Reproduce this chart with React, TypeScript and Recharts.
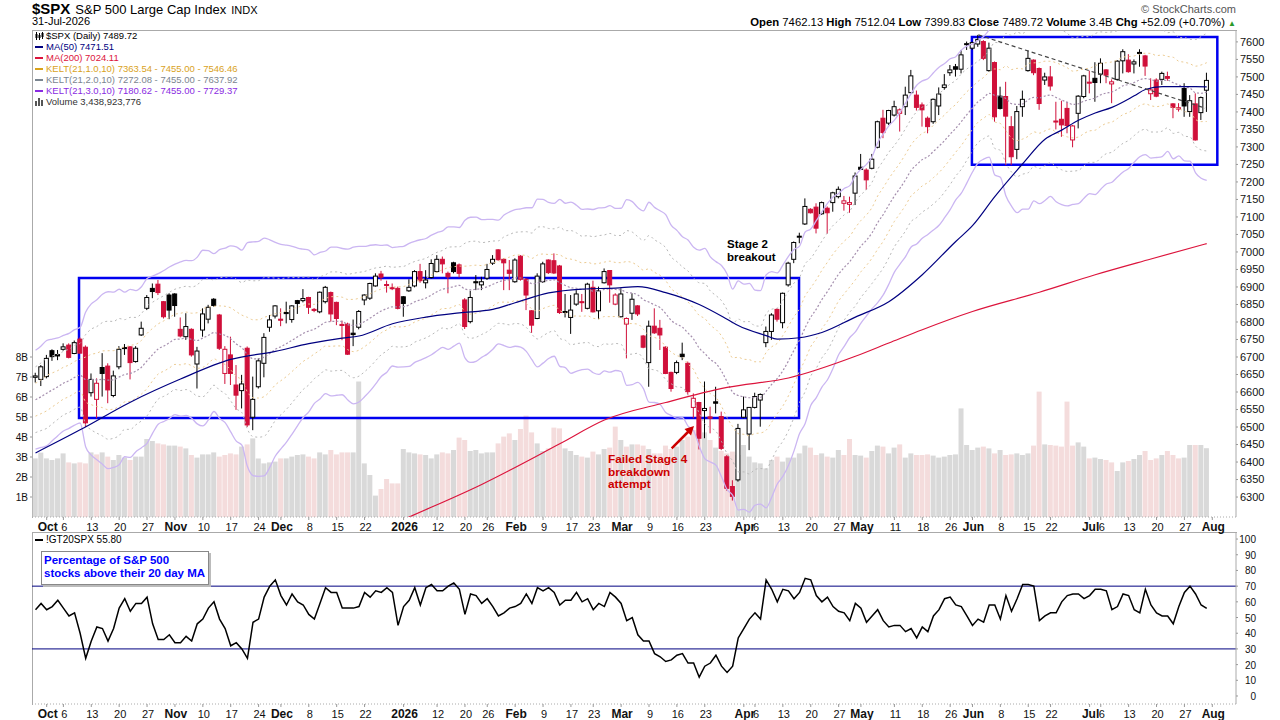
import React from "react";
import { Bar, Cell, ComposedChart, Line, ReferenceArea, ReferenceLine, XAxis, YAxis } from "recharts";

// $SPX daily candles 29-Sep-2025 .. 31-Jul-2026 : [open, high, low, close]
const ohlc: [number, number, number, number][] = [
  [6642, 6655, 6627, 6646], [6636, 6677, 6617, 6672], [6644, 6706, 6639, 6696], [6718, 6722, 6689, 6701], [6707, 6720, 6691, 6703],
  [6722, 6739, 6718, 6729], [6734, 6739, 6696, 6699], [6710, 6747, 6708, 6741], [6751, 6756, 6710, 6711], [6728, 6733, 6500, 6512],
  [6598, 6653, 6587, 6636], [6579, 6639, 6525, 6625], [6670, 6711, 6587, 6653], [6674, 6682, 6568, 6606], [6590, 6661, 6585, 6646],
  [6672, 6731, 6665, 6722], [6727, 6737, 6706, 6724], [6729, 6731, 6636, 6684], [6687, 6731, 6684, 6725], [6763, 6801, 6760, 6782],
  [6839, 6877, 6834, 6870], [6896, 6910, 6868, 6887], [6908, 6920, 6877, 6884], [6858, 6860, 6810, 6815], [6877, 6882, 6808, 6834],
  [6880, 6882, 6815, 6847], [6779, 6813, 6756, 6760], [6758, 6825, 6749, 6787], [6779, 6782, 6701, 6706], [6680, 6729, 6610, 6717],
  [6777, 6839, 6758, 6823], [6808, 6849, 6796, 6842], [6865, 6868, 6844, 6847], [6820, 6823, 6720, 6725], [6653, 6731, 6623, 6722],
  [6706, 6758, 6620, 6653], [6620, 6677, 6549, 6591], [6604, 6649, 6553, 6623], [6725, 6730, 6500, 6506], [6528, 6644, 6491, 6579],
  [6615, 6696, 6610, 6689], [6682, 6768, 6642, 6756], [6785, 6820, 6772, 6806], [6817, 6848, 6810, 6846], [6808, 6839, 6788, 6805],
  [6827, 6858, 6796, 6824], [6807, 6848, 6798, 6846], [6861, 6863, 6823, 6853], [6861, 6894, 6856, 6867], [6870, 6872, 6823, 6842],
  [6836, 6840, 6828, 6833], [6829, 6887, 6825, 6885], [6858, 6903, 6853, 6899], [6884, 6887, 6801, 6823], [6856, 6858, 6791, 6810],
  [6793, 6804, 6748, 6790], [6794, 6798, 6706, 6708], [6768, 6807, 6731, 6764], [6785, 6834, 6779, 6830], [6863, 6879, 6848, 6877],
  [6868, 6912, 6863, 6910], [6903, 6939, 6901, 6931], [6937, 6946, 6918, 6928], [6907, 6918, 6884, 6905], [6898, 6910, 6891, 6895],
  [6896, 6901, 6836, 6839], [6872, 6874, 6815, 6853], [6889, 6922, 6886, 6899], [6903, 6948, 6899, 6944], [6944, 6966, 6912, 6918],
  [6912, 6948, 6896, 6920], [6927, 6979, 6924, 6967], [6944, 6991, 6941, 6979], [6979, 6987, 6939, 6966], [6939, 6944, 6882, 6929],
  [6969, 6972, 6939, 6944], [6963, 6967, 6927, 6939], [6863, 6868, 6780, 6787], [6801, 6889, 6796, 6870], [6915, 6934, 6891, 6912],
  [6906, 6929, 6891, 6915], [6925, 6966, 6920, 6950], [6968, 6991, 6963, 6979], [7006, 7008, 6975, 6978], [6979, 6982, 6891, 6969],
  [6948, 6977, 6891, 6939], [6915, 6982, 6912, 6977], [6988, 6991, 6918, 6922], [6922, 6925, 6834, 6877], [6832, 6834, 6769, 6791],
  [6810, 6939, 6808, 6931], [6915, 6972, 6912, 6966], [6977, 6979, 6937, 6941], [6975, 6996, 6937, 6940], [6960, 6963, 6823, 6827],
  [6830, 6880, 6813, 6828], [6813, 6877, 6766, 6834], [6851, 6891, 6846, 6880], [6858, 6880, 6829, 6856], [6839, 6912, 6836, 6908],
  [6899, 6918, 6827, 6829], [6832, 6901, 6808, 6889], [6912, 6953, 6910, 6944], [6947, 6948, 6855, 6906], [6851, 6882, 6848, 6877],
  [6815, 6896, 6813, 6880], [6794, 6813, 6696, 6810], [6825, 6882, 6806, 6865], [6846, 6848, 6817, 6823], [6760, 6763, 6725, 6728],
  [6684, 6804, 6615, 6788], [6788, 6839, 6766, 6769], [6782, 6806, 6720, 6763], [6728, 6731, 6651, 6653], [6656, 6658, 6601, 6610],
  [6656, 6690, 6651, 6684], [6708, 6741, 6691, 6701], [6682, 6687, 6591, 6601], [6556, 6596, 6525, 6582], [6570, 6572, 6436, 6468],
  [6547, 6630, 6468, 6553], [6529, 6558, 6482, 6525], [6572, 6615, 6539, 6568], [6530, 6544, 6434, 6439], [6415, 6420, 6318, 6325],
  [6330, 6348, 6290, 6302], [6349, 6509, 6344, 6496], [6528, 6587, 6525, 6549], [6480, 6557, 6434, 6556], [6556, 6598, 6553, 6587],
  [6577, 6596, 6501, 6593], [6741, 6787, 6728, 6773], [6773, 6825, 6749, 6820], [6836, 6839, 6801, 6808], [6798, 6884, 6782, 6882],
  [6906, 6972, 6901, 6968], [6979, 7030, 6968, 7027], [7043, 7055, 7025, 7045], [7080, 7153, 7077, 7130], [7122, 7125, 7110, 7112],
  [7128, 7139, 7053, 7068], [7109, 7144, 7106, 7141], [7125, 7130, 7052, 7112], [7141, 7172, 7115, 7169], [7158, 7187, 7153, 7179],
  [7139, 7160, 7118, 7146], [7136, 7158, 7112, 7141], [7168, 7227, 7134, 7217], [7242, 7280, 7234, 7236], [7234, 7239, 7177, 7206],
  [7239, 7280, 7236, 7265], [7299, 7375, 7296, 7372], [7382, 7406, 7325, 7341], [7368, 7406, 7363, 7404], [7391, 7432, 7387, 7415],
  [7396, 7410, 7344, 7406], [7415, 7472, 7391, 7448], [7455, 7520, 7453, 7503], [7448, 7461, 7404, 7413], [7420, 7427, 7358, 7406],
  [7382, 7387, 7339, 7358], [7372, 7439, 7366, 7436], [7417, 7470, 7391, 7451], [7470, 7508, 7463, 7477], [7512, 7534, 7503, 7520],
  [7529, 7537, 7501, 7522], [7522, 7577, 7510, 7563], [7593, 7601, 7577, 7595], [7582, 7601, 7577, 7598], [7594, 7620, 7586, 7607],
  [7601, 7605, 7548, 7553], [7518, 7598, 7515, 7582], [7541, 7544, 7372, 7386], [7445, 7472, 7407, 7410], [7444, 7486, 7248, 7388],
  [7358, 7388, 7248, 7272], [7293, 7417, 7265, 7401], [7415, 7461, 7386, 7436], [7518, 7575, 7515, 7553], [7548, 7550, 7505, 7512],
  [7524, 7527, 7406, 7424], [7491, 7512, 7477, 7500], [7500, 7531, 7461, 7474], [7374, 7429, 7350, 7372], [7379, 7432, 7329, 7363],
  [7410, 7429, 7339, 7361], [7320, 7363, 7299, 7360], [7396, 7448, 7353, 7445], [7444, 7506, 7439, 7503], [7485, 7518, 7453, 7483],
  [7496, 7542, 7429, 7484], [7508, 7553, 7482, 7539], [7520, 7522, 7482, 7505], [7480, 7493, 7425, 7486], [7493, 7548, 7489, 7545],
  [7546, 7579, 7510, 7572], [7548, 7565, 7512, 7515], [7537, 7550, 7510, 7543], [7570, 7579, 7529, 7567], [7560, 7563, 7503, 7531],
  [7452, 7496, 7434, 7463], [7491, 7496, 7442, 7445], [7493, 7515, 7477, 7510], [7501, 7515, 7489, 7496], [7423, 7425, 7382, 7413],
  [7408, 7425, 7401, 7412], [7467, 7482, 7386, 7417], [7401, 7448, 7386, 7432], [7423, 7453, 7318, 7320], [7398, 7444, 7377, 7441],
  [7462, 7512, 7400, 7490],
];

const priorClose = 6640;

// daily volume, billions
const volumeB = [
  2.93, 3.22, 2.93, 2.85, 2.93, 3.18, 2.73, 2.68, 2.73, 2.68,
  3.23, 3.13, 3.23, 3.02, 2.85, 3.10, 2.97, 2.85, 3.02, 3.02,
  3.90, 3.80, 3.68, 3.63, 3.57, 3.57, 3.52, 3.43, 3.10, 2.97,
  3.13, 3.13, 3.23, 3.02, 3.10, 3.18, 3.13, 3.52, 3.63, 3.93,
  2.93, 2.68, 2.73, 2.77, 2.93, 2.93, 3.02, 3.10, 3.13, 3.02,
  2.93, 3.23, 3.13, 3.35, 3.13, 3.23, 3.23, 3.23, 6.77, 2.68,
  2.10, 1.07, 1.40, 1.90, 1.68, 1.68, 3.40, 3.23, 3.18, 3.13,
  3.10, 2.93, 3.13, 3.23, 3.18, 3.35, 3.97, 3.85, 3.30, 3.35,
  3.18, 3.23, 3.23, 3.68, 4.02, 4.18, 3.85, 4.40, 5.07, 4.23,
  3.68, 3.30, 3.43, 4.47, 4.43, 3.43, 3.30, 3.10, 3.02, 2.97,
  3.27, 3.13, 3.40, 3.47, 4.52, 3.85, 3.52, 3.63, 3.63, 3.57,
  3.40, 3.18, 3.18, 3.57, 3.40, 3.52, 3.85, 4.02, 4.35, 4.60,
  4.23, 3.85, 3.47, 3.30, 3.18, 3.27, 3.10, 3.60, 3.02, 2.73,
  2.68, 2.43, 2.85, 3.02, 2.77, 2.97, 2.97, 3.18, 3.57, 3.47,
  3.10, 3.18, 3.02, 2.97, 3.35, 3.10, 3.90, 3.10, 3.07, 2.97,
  3.30, 3.57, 3.52, 3.18, 3.47, 3.63, 2.97, 3.18, 3.10, 3.10,
  3.13, 3.07, 2.97, 3.02, 3.10, 3.13, 5.43, 3.60, 3.35, 3.47,
  3.52, 3.43, 3.18, 3.35, 3.10, 3.13, 3.18, 3.10, 3.18, 3.57,
  6.27, 3.63, 3.60, 3.57, 3.52, 5.77, 3.57, 3.73, 3.52, 2.93,
  2.97, 2.90, 2.85, 2.73, 2.30, 2.73, 2.80, 2.90, 3.10, 3.30,
  2.85, 2.93, 3.10, 3.30, 3.10, 2.93, 2.97, 3.60, 3.60, 3.60,
  3.44,
];

// !GT20SPX : % of S&P 500 stocks above their 20 day MA
const pctAbove20 = [
  55, 59, 55, 57, 61, 56, 51, 53, 40, 24, 35, 44, 43, 35, 43, 56, 62, 54, 59, 59,
  63, 46, 36, 36, 39, 34, 34, 38, 35, 46, 49, 56, 60, 49, 43, 32, 34, 30, 24, 47,
  49, 63, 70, 74, 64, 58, 65, 60, 58, 52, 49, 59, 69, 66, 66, 56, 56, 56, 57, 66,
  63, 67, 66, 69, 66, 45, 57, 61, 69, 58, 69, 71, 67, 67, 70, 72, 68, 52, 65, 64,
  59, 62, 57, 51, 53, 56, 57, 59, 65, 59, 69, 67, 69, 66, 58, 61, 61, 66, 60, 62,
  55, 59, 57, 66, 63, 59, 48, 50, 39, 35, 35, 27, 25, 22, 23, 26, 27, 21, 21, 12,
  19, 21, 26, 19, 15, 19, 37, 43, 49, 53, 49, 74, 68, 60, 68, 67, 62, 66, 75, 74,
  64, 60, 63, 57, 54, 53, 48, 59, 56, 47, 51, 55, 48, 44, 45, 45, 41, 43, 37, 44,
  41, 51, 55, 62, 63, 58, 57, 51, 45, 49, 47, 58, 58, 49, 64, 54, 62, 71, 71, 70,
  48, 51, 53, 53, 60, 64, 65, 65, 62, 64, 68, 68, 67, 55, 57, 65, 64, 55, 53, 68,
  58, 53, 51, 51, 46, 57, 66, 70, 65, 58, 55.8,
];

// moving averages: [day index, value]
const ma50Pts: [number, number][] = [
  [0, 6426], [8, 6492], [17, 6571], [26, 6637], [35, 6693], [43, 6716], [49, 6738], [55, 6754], [58, 6760],
  [64, 6795], [70, 6814], [76, 6826], [82, 6836], [86, 6855], [92, 6883], [98, 6894], [104, 6897], [108, 6901],
  [113, 6884], [119, 6850], [124, 6808], [126, 6790], [131, 6761], [133, 6751], [137, 6755], [141, 6770],
  [147, 6814], [153, 6858], [159, 6935], [165, 7030], [168, 7075], [172, 7158], [177, 7252], [181, 7322],
  [184, 7348], [187, 7376], [190, 7397], [193, 7413], [197, 7446], [199, 7464], [202, 7472], [208, 7472], [210, 7471.5],
];
const ma200Pts: [number, number][] = [
  [56, 6165], [67, 6243], [80, 6336], [94, 6452], [102, 6520], [113, 6570], [124, 6613], [135, 6640],
  [147, 6702], [153, 6740], [159, 6778], [168, 6830], [180, 6885], [190, 6935], [200, 6980], [210, 7024],
];

// Keltner channel starting state (EMA21 / ATR10 on the first day)
const keltStartMid = 6578;
const keltStartAtr = 47;

const tickIdx = [
  2, 5, 10, 15, 20, 25, 30, 35, 40, 44, 49, 54, 59, 66, 72, 77, 81, 86, 91, 96, 100,
  105, 110, 115, 120, 127, 129, 134, 139, 144, 148, 154, 159, 164, 168, 173, 178, 182,
  189, 191, 196, 201, 206, 211,
];
const tickText = [
  "Oct", "6", "13", "20", "27", "Nov", "10", "17", "24", "Dec", "8", "15", "22", "2026", "12", "20", "26", "Feb", "9", "17", "23",
  "Mar", "9", "16", "23", "Apr", "6", "13", "20", "27", "May", "11", "18", "26", "Jun", "8", "15", "22",
  "Jul", "6", "13", "20", "27", "Aug",
];
const monthText = ["Oct", "Nov", "Dec", "2026", "Feb", "Mar", "Apr", "May", "Jun", "Jul", "Aug"];

const priceTicks = [
  6300, 6350, 6400, 6450, 6500, 6550, 6600, 6650, 6700, 6750, 6800, 6850, 6900, 6950,
  7000, 7050, 7100, 7150, 7200, 7250, 7300, 7350, 7400, 7450, 7500, 7550, 7600,
];
const volTicks = [1, 2, 3, 4, 5, 6, 7, 8];
const pctTicks = [0, 10, 20, 30, 40, 50, 60, 70, 80, 90, 100];

const FONT = "'Liberation Sans', Arial, sans-serif";
const RED = "#d0103a";
const X_DOMAIN: [number, number] = [-0.63, 215.25];

const kMid: number[] = [];
const kAtr: number[] = [];
ohlc.forEach(([, h, l, c], i) => {
  if (i === 0) {
    kMid.push(keltStartMid);
    kAtr.push(keltStartAtr);
    return;
  }
  const pc = ohlc[i - 1][3];
  const tr = Math.max(h - l, Math.abs(h - pc), Math.abs(l - pc));
  kMid.push(kMid[i - 1] + (2 / 22) * (c - kMid[i - 1]));
  kAtr.push((kAtr[i - 1] * 9 + tr) / 10);
});

const ma50Map = new Map(ma50Pts);
const ma200Map = new Map(ma200Pts);

const rows = ohlc.map(([o, h, l, c], i) => ({
  i,
  o,
  h,
  l,
  c,
  prevC: i === 0 ? priorClose : ohlc[i - 1][3],
  range: [l, h],
  vol: volumeB[i],
  pct: pctAbove20[i],
  mid: kMid[i],
  k1u: kMid[i] + kAtr[i],
  k1l: kMid[i] - kAtr[i],
  k2u: kMid[i] + 2 * kAtr[i],
  k2l: kMid[i] - 2 * kAtr[i],
  k3u: kMid[i] + 3 * kAtr[i],
  k3l: kMid[i] - 3 * kAtr[i],
  ma50: ma50Map.has(i) ? ma50Map.get(i) : null,
  ma200: ma200Map.has(i) ? ma200Map.get(i) : null,
}));

const Candle = (props: any) => {
  const { x, width, payload } = props;
  let { y, height } = props;
  if (!payload || y == null || height == null) return null;
  if (height < 0) {
    y += height;
    height = -height;
  }
  const { o, h, l, c, prevC } = payload;
  const cx = x + width / 2;
  const span = h - l || 1;
  const py = (p: number) => y + ((h - p) / span) * height;
  const color = c >= prevC ? "#000" : RED;
  const hollow = c >= o;
  const top = py(Math.max(o, c));
  const bot = py(Math.min(o, c));
  return (
    <g>
      <line x1={cx} x2={cx} y1={y} y2={y + height} stroke={color} strokeWidth={1} />
      <rect x={cx - 2} y={top} width={4} height={Math.max(bot - top, 1)} fill={hollow ? "#fff" : color} stroke={color} strokeWidth={1} />
    </g>
  );
};

const DateTick = (props: any) => {
  const { x, y, payload } = props;
  const k = tickIdx.indexOf(payload.value);
  const label = k >= 0 ? tickText[k] : "";
  const bold = monthText.includes(label);
  return (
    <text x={x + 1} y={y + 9} textAnchor="middle" fontFamily={FONT} fontSize={bold ? 12 : 11} fontWeight={bold ? 700 : 400} fill="#111">
      {label}
    </text>
  );
};

const PctTick = (props: any) => {
  const { x, y, payload } = props;
  return (
    <text x={x + 16} y={y + 4} textAnchor="end" fontFamily={FONT} fontSize={10} fill="#111">
      {payload.value}
    </text>
  );
};

const legendLine = (color: string) => (
  <span style={{ display: "inline-block", width: 8, height: 2, background: color, marginRight: 3, verticalAlign: "middle" }} />
);

const App = () => {
  return (
    <div style={{ position: "absolute", left: 0, top: 0, width: 1280, height: 720, background: "#fff", overflow: "hidden", fontFamily: FONT }}>
      {/* header */}
      <div style={{ position: "absolute", left: 32, top: 0, whiteSpace: "nowrap", color: "#000" }}>
        <span style={{ fontSize: 15, fontWeight: 700 }}>$SPX</span>
        <span style={{ fontSize: 13, marginLeft: 5 }}>{"S&P 500 Large Cap Index"}</span>
        <span style={{ fontSize: 11, marginLeft: 5 }}>INDX</span>
      </div>
      <div style={{ position: "absolute", left: 32, top: 15, fontSize: 11, color: "#000" }}>31-Jul-2026</div>
      <div style={{ position: "absolute", right: 44, top: 3, fontSize: 11, color: "#555" }}>© StockCharts.com</div>
      <div style={{ position: "absolute", right: 44, top: 16, fontSize: 11.3, color: "#000", whiteSpace: "nowrap" }}>
        <b>Open</b> 7462.13 <b>High</b> 7512.04 <b>Low</b> 7399.83 <b>Close</b> 7489.72 <b>Volume</b> 3.4B <b>Chg</b> +52.09 (+0.70%){" "}
        <span style={{ color: "#2a9a2a", fontSize: 8 }}>▲</span>
      </div>

      {/* panel borders */}
      <div style={{ position: "absolute", left: 32, top: 30, width: 1204, height: 487, borderLeft: "1px solid #aaa", borderTop: "1px solid #aaa" }} />
      <div style={{ position: "absolute", left: 32, top: 532, width: 1204, height: 172, borderLeft: "1px solid #aaa", borderTop: "1px solid #aaa" }} />

      {/* volume (behind price) */}
      <div style={{ position: "absolute", left: 0, top: 0 }}>
        <ComposedChart width={1280} height={535} data={rows} margin={{ top: 30, right: 44, bottom: 18, left: 0 }}>
          <XAxis type="number" dataKey="i" domain={X_DOMAIN} allowDataOverflow hide />
          <YAxis
            yAxisId="v"
            orientation="left"
            domain={[0, 24.35]}
            ticks={volTicks}
            interval={0}
            width={32}
            tickFormatter={(v: number) => `${v}B`}
            tick={{ fontSize: 10, fill: "#111", fontFamily: FONT }}
            tickSize={2}
            tickMargin={2}
            axisLine={false}
            tickLine={{ stroke: "#999" }}
          />
          <Bar yAxisId="v" dataKey="vol" barSize={5} isAnimationActive={false}>
            {rows.map((r) => (
              <Cell key={`v-${r.i}`} fill={r.c >= r.prevC ? "#d9d9d9" : "#f4dcdc"} />
            ))}
          </Bar>
        </ComposedChart>
      </div>

      {/* price */}
      <div style={{ position: "absolute", left: 0, top: 0 }}>
        <ComposedChart width={1280} height={535} data={rows} margin={{ top: 30, right: 0, bottom: 0, left: 32 }}>
          <XAxis
            type="number"
            dataKey="i"
            domain={X_DOMAIN}
            allowDataOverflow
            ticks={tickIdx}
            interval={0}
            tick={<DateTick />}
            tickSize={3}
            tickLine={{ stroke: "#999" }}
            axisLine={{ stroke: "#aaa", strokeDasharray: "1 2" }}
            height={18}
          />
          <YAxis
            yAxisId="p"
            orientation="right"
            domain={[6243, 7634]}
            allowDataOverflow
            ticks={priceTicks}
            interval={0}
            width={44}
            tick={{ fontSize: 11, fill: "#111", fontFamily: FONT }}
            tickSize={2}
            tickMargin={2}
            axisLine={{ stroke: "#aaa" }}
            tickLine={{ stroke: "#999" }}
          />
          <Line yAxisId="p" dataKey="k3u" type="monotone" stroke="#cbb6f2" strokeWidth={1.3} dot={false} isAnimationActive={false} />
          <Line yAxisId="p" dataKey="k3l" type="monotone" stroke="#cbb6f2" strokeWidth={1.3} dot={false} isAnimationActive={false} />
          <Line yAxisId="p" dataKey="k2u" type="monotone" stroke="#b9b9b9" strokeWidth={1} strokeDasharray="2 3" dot={false} isAnimationActive={false} />
          <Line yAxisId="p" dataKey="k2l" type="monotone" stroke="#b9b9b9" strokeWidth={1} strokeDasharray="2 3" dot={false} isAnimationActive={false} />
          <Line yAxisId="p" dataKey="k1u" type="monotone" stroke="#eccb92" strokeWidth={1} strokeDasharray="2 3" dot={false} isAnimationActive={false} />
          <Line yAxisId="p" dataKey="k1l" type="monotone" stroke="#eccb92" strokeWidth={1} strokeDasharray="2 3" dot={false} isAnimationActive={false} />
          <Line yAxisId="p" dataKey="mid" type="monotone" stroke="#a58fae" strokeWidth={1.2} strokeDasharray="2 2" dot={false} isAnimationActive={false} />
          <Line yAxisId="p" dataKey="ma200" type="monotone" connectNulls stroke="#dc143c" strokeWidth={1.2} dot={false} isAnimationActive={false} />
          <Line yAxisId="p" dataKey="ma50" type="monotone" connectNulls stroke="#000080" strokeWidth={1.2} dot={false} isAnimationActive={false} />
          <Bar yAxisId="p" dataKey="range" barSize={5} shape={Candle} isAnimationActive={false} />
          <ReferenceArea yAxisId="p" x1={7.8} x2={136.9} y1={6526} y2={6926} fill="none" fillOpacity={0} stroke="#0000f0" strokeWidth={2.5} ifOverflow="visible" />
          <ReferenceArea yAxisId="p" x1={167.9} x2={211.9} y1={7249} y2={7614} fill="none" fillOpacity={0} stroke="#0000f0" strokeWidth={2.5} ifOverflow="visible" />
          <ReferenceLine
            yAxisId="p"
            segment={[{ x: 169.05, y: 7620 }, { x: 209.7, y: 7411 }]}
            stroke="#444"
            strokeWidth={1.2}
            strokeDasharray="4 3"
            ifOverflow="visible"
          />
        </ComposedChart>
      </div>

      {/* legend of the price panel */}
      <div style={{ position: "absolute", left: 35, top: 30, fontSize: 9.5, lineHeight: "11px", whiteSpace: "nowrap" }}>
        <div style={{ color: "#000" }}>
          <svg width={9} height={8} style={{ marginRight: 2, verticalAlign: "middle" }}>
            <line x1={1.5} x2={1.5} y1={0} y2={8} stroke="#000" />
            <rect x={0.5} y={2} width={2} height={4} fill="#000" />
            <line x1={4.5} x2={4.5} y1={1} y2={8} stroke="#000" />
            <rect x={3.5} y={3} width={2} height={3} fill="#000" />
            <line x1={7.5} x2={7.5} y1={0} y2={7} stroke="#000" />
            <rect x={6.5} y={1} width={2} height={4} fill="#000" />
          </svg>
          $SPX (Daily) 7489.72
        </div>
        <div style={{ color: "#000080" }}>{legendLine("#000080")}MA(50) 7471.51</div>
        <div style={{ color: "#dc143c" }}>{legendLine("#dc143c")}MA(200) 7024.11</div>
        <div style={{ color: "#d9a21c" }}>{legendLine("#d9a21c")}KELT(21,1.0,10) 7363.54 - 7455.00 - 7546.46</div>
        <div style={{ color: "#7b8590" }}>{legendLine("#7b8590")}KELT(21,2.0,10) 7272.08 - 7455.00 - 7637.92</div>
        <div style={{ color: "#8a2be2" }}>{legendLine("#8a2be2")}KELT(21,3.0,10) 7180.62 - 7455.00 - 7729.37</div>
        <div style={{ color: "#333" }}>
          <svg width={9} height={8} style={{ marginRight: 2, verticalAlign: "middle" }}>
            <rect x={0} y={3} width={2} height={5} fill="#555" />
            <rect x={3} y={0} width={2} height={8} fill="#555" />
            <rect x={6} y={2} width={2} height={6} fill="#555" />
          </svg>
          Volume 3,438,923,776
        </div>
      </div>

      {/* annotations */}
      <div style={{ position: "absolute", left: 727, top: 238, fontSize: 11.5, fontWeight: 700, lineHeight: "13px", color: "#000" }}>
        Stage 2
        <br />
        breakout
      </div>
      <div style={{ position: "absolute", left: 608, top: 453, fontSize: 11.8, fontWeight: 700, lineHeight: "12.7px", color: "#cc0000" }}>
        Failed Stage 4
        <br />
        breakdown
        <br />
        attempt
      </div>
      <svg width={1280} height={720} style={{ position: "absolute", left: 0, top: 0, pointerEvents: "none" }}>
        <line x1={671.7} y1={448.3} x2={688.5} y2={431.5} stroke="#cc0000" strokeWidth={2.5} />
        <polygon points="694,426 691,435.5 684.5,429" fill="#cc0000" />
      </svg>

      {/* lower panel */}
      <div style={{ position: "absolute", left: 0, top: 532 }}>
        <ComposedChart width={1280} height={188} data={rows} margin={{ top: 0, right: 0, bottom: 0, left: 32 }}>
          <XAxis
            type="number"
            dataKey="i"
            domain={X_DOMAIN}
            allowDataOverflow
            ticks={tickIdx}
            interval={0}
            tick={<DateTick />}
            tickSize={3}
            tickLine={{ stroke: "#999" }}
            axisLine={{ stroke: "#aaa", strokeDasharray: "1 2" }}
            height={16}
          />
          <YAxis
            orientation="right"
            domain={[-5.1, 104.5]}
            allowDataOverflow
            ticks={pctTicks}
            interval={0}
            width={44}
            tick={<PctTick />}
            tickSize={2}
            tickMargin={2}
            axisLine={{ stroke: "#aaa" }}
            tickLine={{ stroke: "#999" }}
          />
          <ReferenceLine y={70} stroke="#000080" strokeWidth={1} />
          <ReferenceLine y={30} stroke="#000080" strokeWidth={1} />
          <Line dataKey="pct" type="linear" stroke="#000" strokeWidth={1.5} dot={false} isAnimationActive={false} />
        </ComposedChart>
      </div>
      <div style={{ position: "absolute", left: 35, top: 534, fontSize: 10, color: "#000", whiteSpace: "nowrap" }}>
        {legendLine("#000")}!GT20SPX 55.80
      </div>
      <div
        style={{
          position: "absolute",
          left: 41,
          top: 551,
          width: 164,
          height: 30,
          padding: "0 0 0 2px",
          border: "1px solid #888",
          boxShadow: "2px 2px 0 #bbb",
          background: "#fff",
          color: "#0000ff",
          fontSize: 11.5,
          fontWeight: 700,
          lineHeight: "13px",
          paddingTop: 2,
          whiteSpace: "nowrap",
        }}
      >
        {"Percentage of S&P 500"}
        <br />
        stocks above their 20 day MA
      </div>
    </div>
  );
};

export default App;
